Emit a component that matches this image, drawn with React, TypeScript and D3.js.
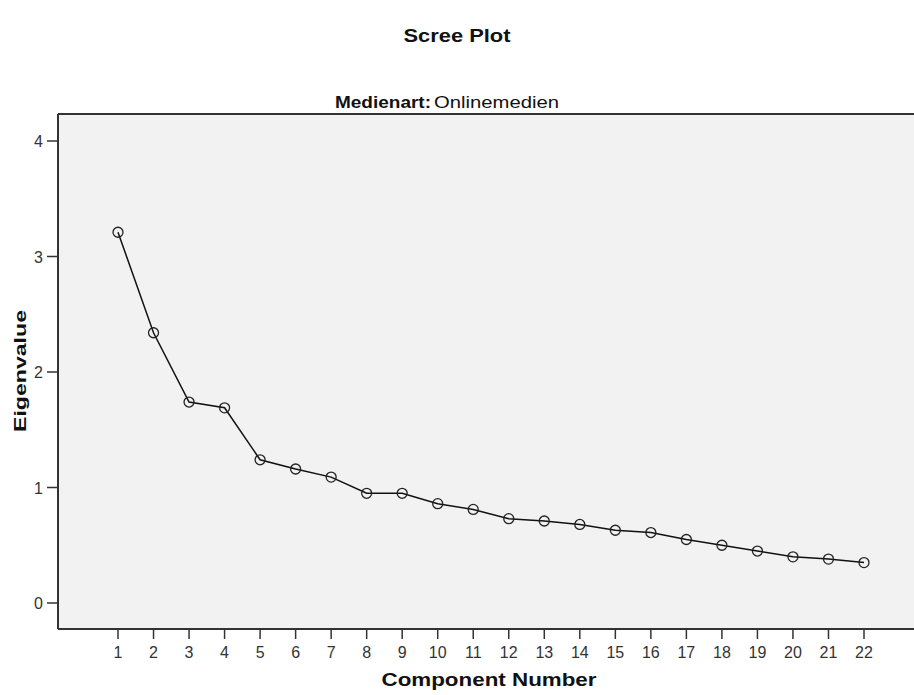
import React from "react";
import * as d3 from "d3";

const components = [1, 2, 3, 4, 5, 6, 7, 8, 9, 10, 11, 12, 13, 14, 15, 16, 17, 18, 19, 20, 21, 22];
const eigenvalues = [3.21, 2.34, 1.74, 1.69, 1.24, 1.16, 1.09, 0.95, 0.95, 0.86, 0.81, 0.73, 0.71, 0.68, 0.63, 0.61, 0.55, 0.5, 0.45, 0.4, 0.38, 0.35];
const yTicks = [0, 1, 2, 3, 4];

const W = 914;
const H = 695;
const left = 58;
const right = 916;
const top = 114;
const bottom = 629;

export default function App() {
  const x = d3.scaleLinear().domain([1, 22]).range([118, 864]);
  const y = d3.scaleLinear().domain([0, 4]).range([603, 141]);
  const data = components.map((c, i) => ({ c, v: eigenvalues[i] }));
  const line = d3
    .line<{ c: number; v: number }>()
    .x((d) => x(d.c))
    .y((d) => y(d.v));
  const font = "Arial, 'Liberation Sans', sans-serif";
  return (
    <svg
      width={W}
      height={H}
      style={{ position: "absolute", left: 0, top: 0, background: "#fff" }}
      fontFamily={font}
    >
      <text x={457} y={42} fontSize={18} fontWeight="bold" textAnchor="middle" textLength={107} lengthAdjust="spacingAndGlyphs" fill="#111">
        Scree Plot
      </text>
      <text x={335} y={108} fontSize={16} fill="#111">
        <tspan fontWeight="bold" textLength={96} lengthAdjust="spacingAndGlyphs">Medienart:</tspan>
        <tspan x={434} textLength={125} lengthAdjust="spacingAndGlyphs">Onlinemedien</tspan>
      </text>
      <rect x={left} y={top} width={right - left} height={bottom - top} fill="#f2f2f2" />
      <line x1={left} x2={right} y1={top} y2={top} stroke="#333" strokeWidth={2} />
      <line x1={left} x2={right} y1={bottom} y2={bottom} stroke="#333" strokeWidth={2} />
      <line x1={left} x2={left} y1={top} y2={bottom} stroke="#333" strokeWidth={2} />
      {yTicks.map((t) => (
        <g key={t}>
          <line x1={47} x2={left} y1={y(t)} y2={y(t)} stroke="#333" strokeWidth={1.5} />
          <text x={43} y={y(t) + 6} fontSize={16} textAnchor="end" fill="#333">
            {t}
          </text>
        </g>
      ))}
      {components.map((c) => (
        <g key={c}>
          <line x1={x(c)} x2={x(c)} y1={bottom} y2={639} stroke="#333" strokeWidth={1.5} />
          <text x={x(c)} y={658} fontSize={16} textAnchor="middle" fill="#333">
            {c}
          </text>
        </g>
      ))}
      <path d={line(data) || ""} fill="none" stroke="#111" strokeWidth={1.5} />
      {data.map((d) => (
        <circle key={d.c} cx={x(d.c)} cy={y(d.v)} r={5} fill="none" stroke="#222" strokeWidth={1.3} />
      ))}
      <text x={489} y={686} fontSize={18} fontWeight="bold" textAnchor="middle" textLength={215} lengthAdjust="spacingAndGlyphs" fill="#111">
        Component Number
      </text>
      <text
        transform={`translate(26,371) rotate(-90)`}
        fontSize={17}
        fontWeight="bold"
        textAnchor="middle"
        textLength={122}
        lengthAdjust="spacingAndGlyphs"
        fill="#111"
      >
        Eigenvalue
      </text>
    </svg>
  );
}
